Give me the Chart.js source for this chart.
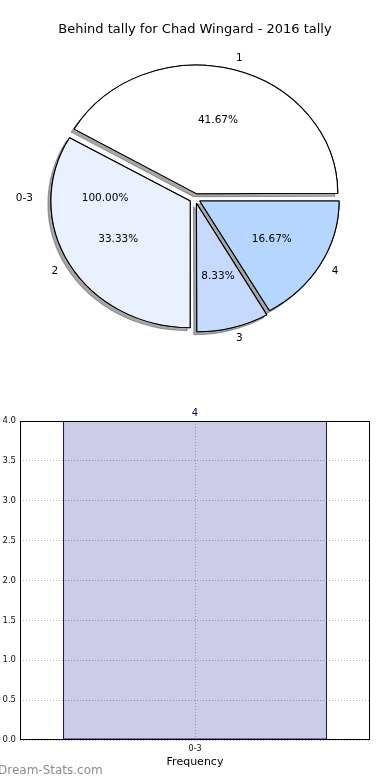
<!DOCTYPE html>
<html>
<head>
<meta charset="utf-8">
<title>Behind tally for Chad Wingard - 2016 tally</title>
<script src="https://cdn.jsdelivr.net/npm/chart.js@4.4.0/dist/chart.umd.min.js"></script>
<style>
    html, body { margin: 0; padding: 0; background: #fff; }
    #wrap { position: relative; width: 390px; height: 780px; overflow: hidden; }
    #pieChart { position: absolute; left: 0; top: 0; }
    #barChart { position: absolute; left: 0; top: 390px; }
    #mark { position: absolute; left: -2px; top: 763px; font: 12px "DejaVu Sans", sans-serif; color: #8c8c8c; }
</style>
</head>
<body>
<div id="wrap">
    <canvas id="pieChart" width="390" height="390"></canvas>
    <canvas id="barChart" width="390" height="390"></canvas>
    <div id="mark">Dream-Stats.com</div>
</div>
<script>
var chartTitle = 'Behind tally for Chad Wingard - 2016 tally';

// inner pie (tally values)
var pieLabels = ['1', '2', '3', '4'];
var pieCounts = [5, 4, 1, 2];
var pieColors = ['#ffffff', '#eaf1fe', '#c6d9ff', '#b4d6ff'];

// outer pie (one group covering everything)
var outerLabels = ['0-3'];
var outerCounts = [12];

// frequency bars
var barLabels = ['0-3'];
var barCounts = [4];
var yTickValues = [0, 0.5, 1, 1.5, 2, 2.5, 3, 3.5, 4];

var stretchX = 1.1; // pie in the original is a bit wider than tall
var outerRadius = 134;

Chart.defaults.font.family = '"DejaVu Sans", sans-serif';

function sum(arr) {
    var t = 0;
    for (var i = 0; i < arr.length; i++) t += arr[i];
    return t;
}

var pieLook = {
    id: 'pieLook',
    beforeDatasetsDraw: function (chart) {
        var ctx = chart.ctx;
        var a = chart.chartArea;
        var cx = (a.left + a.right) / 2, cy = (a.top + a.bottom) / 2;
        ctx.save();
        ctx.translate(cx, cy);
        ctx.scale(stretchX, 1);
        ctx.translate(-cx, -cy);

        // shadow pass first, so every shadow ends up under every wedge
        ctx.save();
        ctx.shadowColor = 'rgba(60,60,60,0.45)';
        ctx.shadowOffsetX = -3;
        ctx.shadowOffsetY = 3;
        ctx.shadowBlur = 0;
        chart.getDatasetMeta(0).data.forEach(function (arc) {
            arc.draw(ctx);
        });
        ctx.restore();
    },
    afterDatasetsDraw: function (chart) {
        var ctx = chart.ctx;
        ctx.restore();

        var a = chart.chartArea;
        var cx = (a.left + a.right) / 2, cy = (a.top + a.bottom) / 2;
        var meta = chart.getDatasetMeta(0);
        var ds = chart.data.datasets[0];
        var total = sum(ds.data);

        ctx.save();
        ctx.font = '10.5px "DejaVu Sans"';
        ctx.fillStyle = '#000';
        ctx.textBaseline = 'middle';

        // outer group label, sits on the left (mid angle of a full circle)
        var outerTotal = sum(outerCounts);
        for (var k = 0; k < outerLabels.length; k++) {
            var m = Math.PI;
            ctx.textAlign = 'right';
            ctx.fillText(outerLabels[k], cx + stretchX * outerRadius * 1.1 * Math.cos(m), cy);
            ctx.textAlign = 'center';
            ctx.fillText((outerCounts[k] / outerTotal * 100).toFixed(2) + '%',
                cx + stretchX * outerRadius * 0.61 * Math.cos(m), cy);
        }

        meta.data.forEach(function (arc, i) {
            var mid = (arc.startAngle + arc.endAngle) / 2;
            var off = (arc.options.offset || 0) / 4;
            var ox = arc.x + stretchX * Math.cos(mid) * off;
            var oy = arc.y + Math.sin(mid) * off;
            var r = arc.outerRadius;
            var c = Math.cos(mid), s = Math.sin(mid);

            ctx.textAlign = c >= 0 ? 'left' : 'right';
            ctx.fillText(chart.data.labels[i], ox + stretchX * r * 1.1 * c, oy + r * 1.11 * s);

            ctx.textAlign = 'center';
            var pct = (ds.data[i] / total * 100).toFixed(2) + '%';
            ctx.fillText(pct, ox + stretchX * r * 0.6 * c, oy + r * 0.6 * s);
        });
        ctx.restore();
    }
};

// chart.js goes clockwise, the original goes counter clockwise from 3 o'clock
new Chart(document.getElementById('pieChart'), {
    type: 'pie',
    data: {
        labels: pieLabels.slice().reverse(),
        datasets: [{
            data: pieCounts.slice().reverse(),
            backgroundColor: pieColors.slice().reverse(),
            borderColor: '#000',
            borderWidth: 1,
            offset: 20
        }]
    },
    options: {
        responsive: false,
        animation: false,
        events: [],
        rotation: 90,
        radius: 126,
        layout: { padding: { top: 0, bottom: 30.6, left: 0, right: 0 } },
        plugins: {
            legend: { display: false },
            tooltip: { enabled: false },
            title: {
                display: true,
                text: chartTitle,
                color: '#000',
                font: { size: 13, weight: 'normal' },
                padding: { top: 22, bottom: 0 }
            }
        }
    },
    plugins: [pieLook]
});

var barExtras = {
    id: 'barExtras',
    afterDatasetsDraw: function (chart) {
        var ctx = chart.ctx;
        var a = chart.chartArea;
        ctx.save();
        // frame around the plot
        ctx.strokeStyle = '#000';
        ctx.lineWidth = 1;
        ctx.strokeRect(a.left + 0.5, a.top + 0.5, a.right - a.left - 1, a.bottom - a.top - 1);

        // value on top of each bar
        var meta = chart.getDatasetMeta(0);
        ctx.fillStyle = '#000080';
        ctx.font = '10px "DejaVu Sans"';
        ctx.textAlign = 'center';
        ctx.textBaseline = 'bottom';
        meta.data.forEach(function (bar, i) {
            ctx.fillText(String(chart.data.datasets[0].data[i]), bar.x, bar.y - 3);
        });
        ctx.restore();
    }
};

new Chart(document.getElementById('barChart'), {
    type: 'bar',
    data: {
        labels: barLabels,
        datasets: [{
            data: barCounts,
            backgroundColor: 'rgba(0,0,128,0.2)',
            borderColor: '#000080',
            borderWidth: 1,
            borderSkipped: false,
            categoryPercentage: 1,
            barPercentage: 0.754
        }]
    },
    options: {
        responsive: false,
        animation: false,
        events: [],
        layout: { padding: { top: 31, right: 20, bottom: 8, left: 0 } },
        plugins: {
            legend: { display: false },
            tooltip: { enabled: false }
        },
        scales: {
            x: {
                grid: { color: '#b4b4b4', offset: false, drawTicks: false },
                border: { display: false, dash: [1, 2] },
                ticks: { color: '#111', font: { size: 8 }, padding: 4 },
                title: {
                    display: true,
                    text: 'Frequency',
                    color: '#000',
                    font: { size: 11 },
                    padding: { top: 0, bottom: 3 }
                },
                afterFit: function (scale) { scale.height = 32; }
            },
            y: {
                min: 0,
                max: 4,
                grid: { color: '#b4b4b4', drawTicks: false },
                border: { display: false, dash: [1, 2] },
                ticks: {
                    color: '#111',
                    font: { size: 8.5 },
                    padding: 4,
                    callback: function (v) { return Number(v).toFixed(1); }
                },
                afterBuildTicks: function (scale) {
                    scale.ticks = yTickValues.map(function (v) { return { value: v }; });
                },
                afterFit: function (scale) { scale.width = 20; }
            }
        }
    },
    plugins: [barExtras]
});
</script>
</body>
</html>
